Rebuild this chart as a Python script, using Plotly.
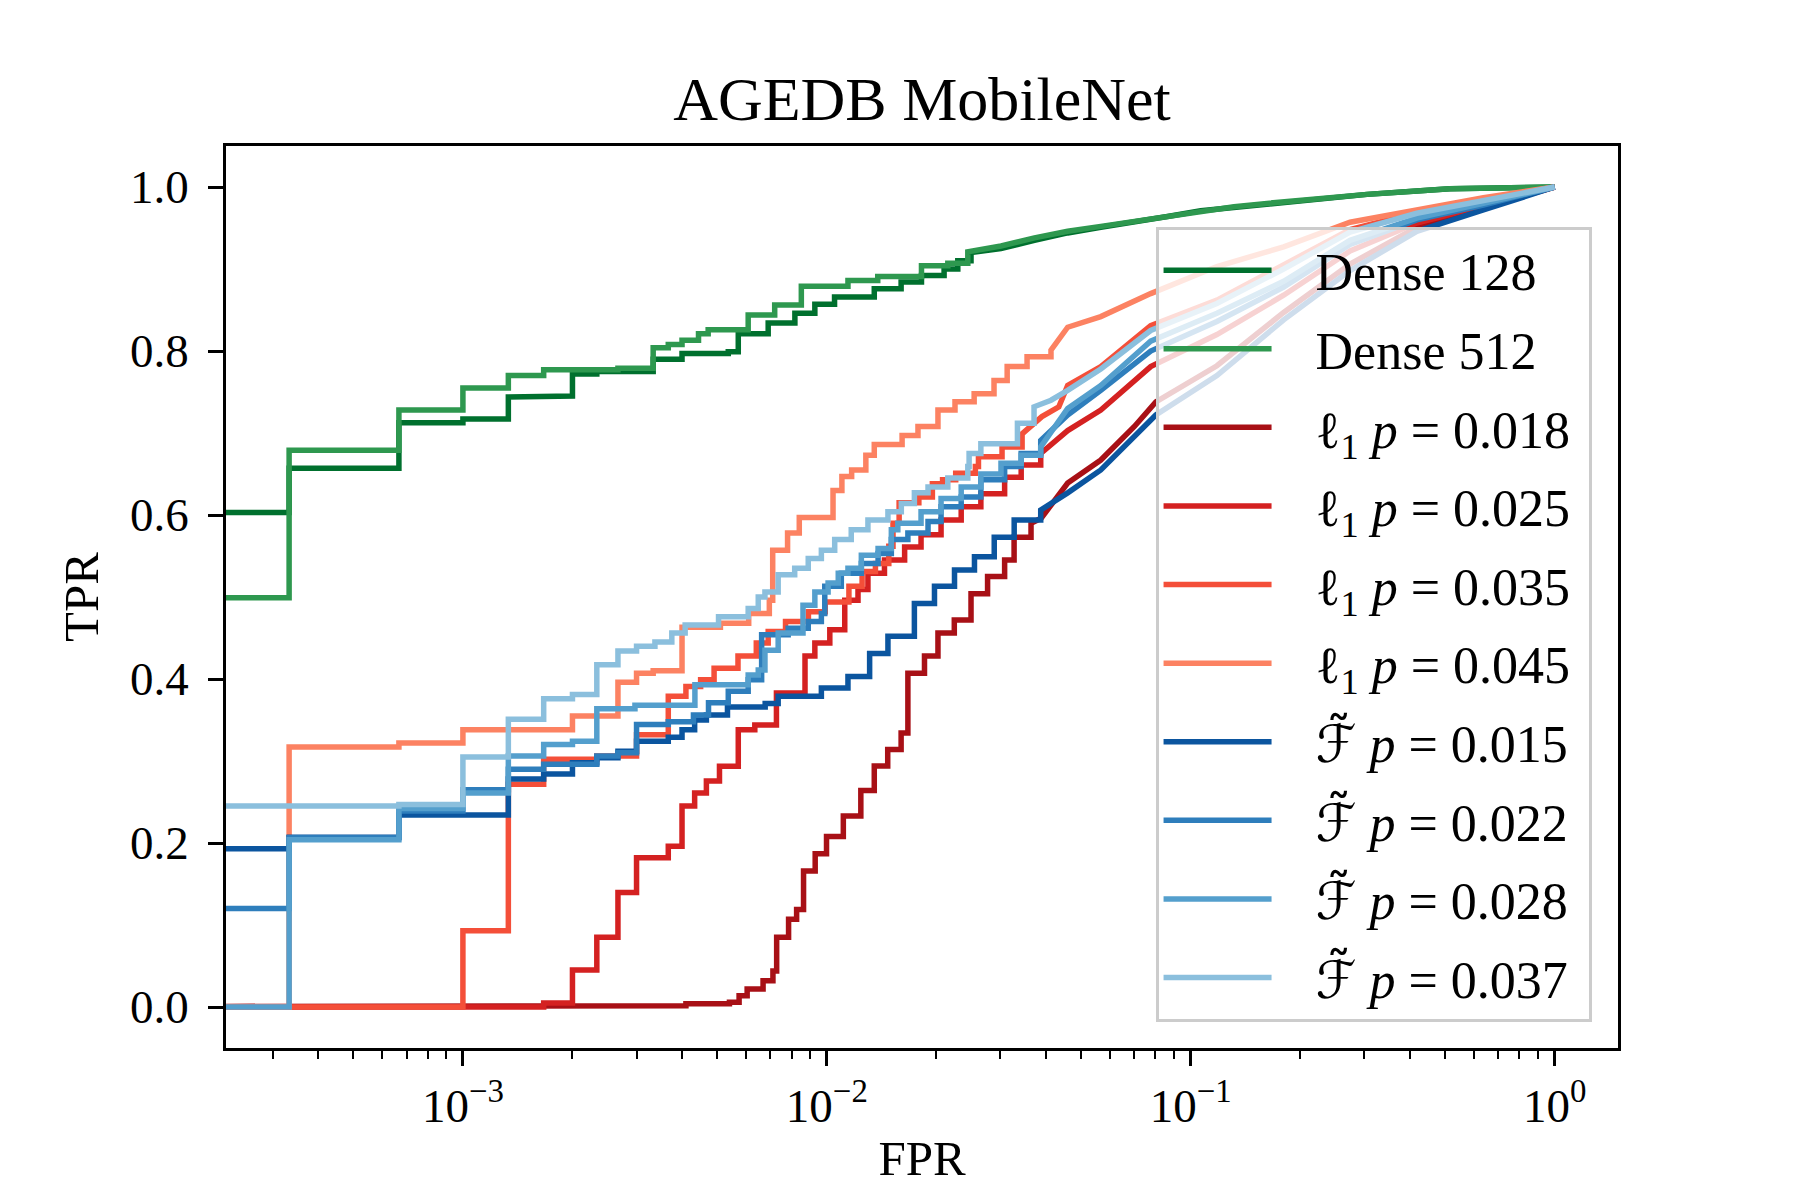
import plotly.graph_objects as go

# ROC curves.
# *_steps: staircase corners (FPR where the TPR level starts, TPR level)
# *_tail: points along the fine-grained upper part, joined directly
dense128_steps = [(0, 0.603), (0.000333, 0.657), (0.000667, 0.7125), (0.001, 0.717), (0.001333, 0.744),
                  (0.001667, 0.745), (0.002, 0.772), (0.002333, 0.775), (0.003333, 0.79), (0.004, 0.797),
                  (0.00536, 0.799), (0.00571, 0.821), (0.0069, 0.834), (0.00817, 0.846), (0.00927, 0.857),
                  (0.0105, 0.866), (0.0135, 0.876), (0.016, 0.884), (0.0182, 0.892), (0.021, 0.90),
                  (0.0229, 0.91), (0.0249, 0.92)]
dense128_tail = [(0.0301, 0.925), (0.0372, 0.935), (0.0459, 0.944), (0.0566, 0.951), (0.070, 0.957),
                 (0.0863, 0.964), (0.1065, 0.971), (0.1315, 0.975), (0.162, 0.980), (0.200, 0.984),
                 (0.247, 0.988), (0.305, 0.991), (0.418, 0.995), (0.515, 0.998), (1.0, 1.0)]

dense512_steps = [(0, 0.499), (0.000333, 0.679), (0.000667, 0.728), (0.001, 0.755), (0.001333, 0.770),
                  (0.001667, 0.777), (0.002667, 0.779), (0.003333, 0.804), (0.003667, 0.808), (0.004, 0.813),
                  (0.00444, 0.821), (0.00472, 0.826), (0.00608, 0.844), (0.00719, 0.856), (0.00851, 0.879),
                  (0.01143, 0.886), (0.0138, 0.891), (0.0182, 0.904), (0.0215, 0.907), (0.0244, 0.921)]
dense512_tail = [(0.0301, 0.928), (0.0372, 0.938), (0.0459, 0.946), (0.0566, 0.952), (0.070, 0.958),
                 (0.0863, 0.965), (0.1065, 0.971), (0.1315, 0.976), (0.162, 0.980), (0.200, 0.984),
                 (0.247, 0.988), (0.305, 0.991), (0.418, 0.995), (0.515, 0.998), (1.0, 1.0)]

l1_018_steps = [(0, 0.0), (0.00167, 0.0008), (0.00267, 0.0016), (0.0041, 0.004), (0.0054, 0.0057),
                (0.00574, 0.0138), (0.00604, 0.022), (0.00668, 0.032), (0.00711, 0.044), (0.00728, 0.085),
                (0.00785, 0.107), (0.00826, 0.119), (0.00863, 0.166), (0.00929, 0.187), (0.00998, 0.208),
                (0.0111, 0.233), (0.0124, 0.264), (0.0135, 0.294), (0.0147, 0.314), (0.0160, 0.334),
                (0.0167, 0.407), (0.01855, 0.428), (0.0202, 0.456), (0.0224, 0.472), (0.0249, 0.504),
                (0.02765, 0.525), (0.0308, 0.545), (0.0327, 0.573), (0.0364, 0.590)]
l1_018_tail = [(0.0388, 0.596), (0.0459, 0.639), (0.0566, 0.667), (0.070, 0.708), (0.0802, 0.738),
               (0.118, 0.782), (0.18, 0.847), (0.274, 0.906), (0.418, 0.951), (0.637, 0.975), (1.0, 1.0)]

l1_025_steps = [(0, 0.0), (0.001667, 0.005), (0.002, 0.045), (0.002333, 0.085), (0.002667, 0.1396),
                (0.003, 0.182), (0.003667, 0.196), (0.004, 0.245), (0.004333, 0.261), (0.004667, 0.2755),
                (0.00507, 0.2937), (0.00571, 0.338), (0.00634, 0.344), (0.00727, 0.383), (0.00871, 0.428),
                (0.00927, 0.444), (0.01019, 0.460), (0.0112, 0.496), (0.01218, 0.509), (0.01297, 0.529),
                (0.0144, 0.545), (0.01636, 0.561), (0.01815, 0.576), (0.0206, 0.594), (0.0234, 0.610),
                (0.0265, 0.626), (0.0308, 0.646), (0.0342, 0.661), (0.0387, 0.675)]
l1_025_tail = [(0.0459, 0.703), (0.0566, 0.728), (0.0776, 0.781), (0.118, 0.82), (0.18, 0.868),
               (0.274, 0.922), (0.418, 0.956), (0.637, 0.977), (1.0, 1.0)]

l1_035_steps = [(0, 0.0), (0.001, 0.093), (0.001333, 0.2715), (0.001667, 0.302), (0.002333, 0.306),
                (0.003, 0.332), (0.003667, 0.379), (0.0041, 0.391), (0.0045, 0.399), (0.0049, 0.413),
                (0.0057, 0.428), (0.0064, 0.444), (0.0069, 0.458), (0.0077, 0.470), (0.0089, 0.482),
                (0.0099, 0.494), (0.0115, 0.513), (0.0125, 0.531), (0.0136, 0.541), (0.0148, 0.562),
                (0.0152, 0.59), (0.0158, 0.615), (0.0179, 0.622), (0.0195, 0.638), (0.0208, 0.643),
                (0.0226, 0.651), (0.0256, 0.659), (0.0261, 0.671), (0.0303, 0.683), (0.0344, 0.699)]
l1_035_tail = [(0.039, 0.72), (0.0434, 0.732), (0.0459, 0.758), (0.0566, 0.781), (0.0776, 0.831),
               (0.118, 0.862), (0.18, 0.905), (0.274, 0.948), (0.418, 0.969), (0.637, 0.985), (1.0, 1.0)]

l1_045_steps = [(0, 0.0), (0.000333, 0.317), (0.000667, 0.322), (0.001, 0.338), (0.002, 0.355),
                (0.002667, 0.396), (0.003, 0.407), (0.003333, 0.41), (0.004, 0.463), (0.0051, 0.468),
                (0.0061, 0.48), (0.00695, 0.496), (0.0071, 0.557), (0.0078, 0.578), (0.0084, 0.597),
                (0.0104, 0.630), (0.011, 0.647), (0.0117, 0.655), (0.0128, 0.673), (0.0135, 0.686),
                (0.0161, 0.697), (0.0178, 0.708), (0.0202, 0.728), (0.0225, 0.738), (0.0254, 0.748),
                (0.0288, 0.764), (0.0313, 0.781), (0.0355, 0.793), (0.0413, 0.801)]
l1_045_tail = [(0.0459, 0.829), (0.0566, 0.842), (0.0776, 0.870), (0.118, 0.903), (0.18, 0.927),
               (0.274, 0.957), (0.418, 0.972), (0.637, 0.987), (1.0, 1.0)]

ft_015_steps = [(0, 0.193), (0.000333, 0.207), (0.000667, 0.234), (0.001333, 0.278), (0.001667, 0.284),
                (0.002, 0.298), (0.002333, 0.304), (0.002667, 0.312), (0.003, 0.324), (0.003667, 0.329),
                (0.004, 0.338), (0.004333, 0.350), (0.004667, 0.356), (0.005333, 0.366), (0.00677, 0.370),
                (0.00735, 0.379), (0.00966, 0.389), (0.01143, 0.403), (0.01311, 0.431), (0.01472, 0.452),
                (0.0174, 0.492), (0.01976, 0.513), (0.02243, 0.533), (0.02545, 0.549), (0.02884, 0.573),
                (0.03272, 0.594), (0.0387, 0.606)]
ft_015_tail = [(0.0413, 0.614), (0.0459, 0.627), (0.0566, 0.655), (0.070, 0.695), (0.0802, 0.722),
               (0.118, 0.770), (0.18, 0.838), (0.274, 0.898), (0.418, 0.946), (0.637, 0.972), (1.0, 1.0)]

ft_022_steps = [(0, 0.12), (0.000333, 0.2065), (0.000667, 0.239), (0.001, 0.265), (0.001333, 0.290),
                (0.001667, 0.296), (0.002333, 0.306), (0.002667, 0.310), (0.003, 0.3445), (0.003667, 0.348),
                (0.0043, 0.356), (0.00473, 0.371), (0.00536, 0.385), (0.00608, 0.399), (0.00662, 0.454),
                (0.00783, 0.462), (0.00889, 0.470), (0.00966, 0.48), (0.00987, 0.513), (0.01096, 0.529),
                (0.01244, 0.541), (0.01383, 0.553), (0.01504, 0.570), (0.0167, 0.578), (0.01897, 0.592),
                (0.0206, 0.610), (0.0234, 0.622), (0.0265, 0.643), (0.0308, 0.659), (0.0342, 0.675),
                (0.0387, 0.691)]
ft_022_tail = [(0.0459, 0.722), (0.0566, 0.752), (0.0776, 0.800), (0.118, 0.836), (0.18, 0.878),
               (0.274, 0.93), (0.418, 0.96), (0.637, 0.978), (1.0, 1.0)]

ft_028_steps = [(0, 0.0), (0.000333, 0.204), (0.000667, 0.242), (0.001, 0.261), (0.001333, 0.306),
                (0.001667, 0.320), (0.002, 0.324), (0.002333, 0.3636), (0.00297, 0.368), (0.00434, 0.393),
                (0.00608, 0.405), (0.00648, 0.411), (0.00676, 0.435), (0.00735, 0.456), (0.0086, 0.490),
                (0.00927, 0.506), (0.01008, 0.517), (0.01075, 0.529), (0.01143, 0.535), (0.01244, 0.551),
                (0.01383, 0.559), (0.01504, 0.582), (0.01567, 0.590), (0.01815, 0.604), (0.0206, 0.620),
                (0.0234, 0.634), (0.0265, 0.650), (0.0301, 0.663), (0.0342, 0.673), (0.0387, 0.683)]
ft_028_tail = [(0.0459, 0.730), (0.0566, 0.758), (0.0776, 0.812), (0.118, 0.846), (0.18, 0.885),
               (0.274, 0.935), (0.418, 0.962), (0.637, 0.98), (1.0, 1.0)]

ft_037_steps = [(0, 0.245), (0.000667, 0.247), (0.001, 0.305), (0.001333, 0.351), (0.001667, 0.376),
                (0.002, 0.381), (0.002333, 0.4175), (0.002667, 0.434), (0.003, 0.440), (0.00337, 0.445),
                (0.00375, 0.456), (0.00408, 0.466), (0.00504, 0.476), (0.00608, 0.486), (0.00648, 0.50),
                (0.00676, 0.506), (0.00735, 0.527), (0.00816, 0.535), (0.00889, 0.547), (0.00966, 0.557),
                (0.01051, 0.570), (0.01167, 0.582), (0.01297, 0.594), (0.01472, 0.604), (0.01602, 0.614),
                (0.0174, 0.627), (0.01897, 0.634), (0.0215, 0.645), (0.0244, 0.659), (0.0246, 0.675),
                (0.0265, 0.687), (0.0334, 0.712), (0.0371, 0.732)]
ft_037_tail = [(0.0413, 0.74), (0.0459, 0.752), (0.0566, 0.778), (0.0776, 0.825), (0.118, 0.858),
               (0.18, 0.90), (0.274, 0.945), (0.418, 0.968), (0.637, 0.984), (1.0, 1.0)]

PAD = "\u00a0\u00a0\u00a0"
L1 = "ℓ<sub>1</sub> <i>p</i> = "
FT = "<span style='font-family:DejaVu Sans'>ℱ̃</span> <i>p</i> = "
curve_names = ["Dense 128", "Dense 512",
               L1 + "0.018", L1 + "0.025", L1 + "0.035", L1 + "0.045",
               FT + "0.015", FT + "0.022", FT + "0.028", FT + "0.037"]
curve_data = [(dense128_steps, dense128_tail), (dense512_steps, dense512_tail),
              (l1_018_steps, l1_018_tail), (l1_025_steps, l1_025_tail),
              (l1_035_steps, l1_035_tail), (l1_045_steps, l1_045_tail),
              (ft_015_steps, ft_015_tail), (ft_022_steps, ft_022_tail),
              (ft_028_steps, ft_028_tail), (ft_037_steps, ft_037_tail)]
colors = ["#00702e", "#2e984f",
          "#a81016", "#d42121", "#f44f39", "#fc8262",
          "#0b559f", "#2e7ebc", "#549fcd", "#8bbfdd"]

X_RANGE = [-3.651, 0.174]
FONT = "Liberation Serif, Times New Roman, serif"


def staircase(steps, tail, zero_x):
    # expand staircase corners (horizontal, then vertical) and add the tail
    xs, ys = [], []
    for i, (f, t) in enumerate(steps):
        f = f if f > 0 else zero_x
        if i > 0:
            xs.append(f)
            ys.append(ys[-1])
        xs.append(f)
        ys.append(t)
    for f, t in tail:
        xs.append(f)
        ys.append(t)
    return xs, ys


fig = go.Figure()
zero_x = 10 ** (X_RANGE[0] - 1)
for name, (steps, tail), color in zip(curve_names, curve_data, colors):
    xs, ys = staircase(steps, tail, zero_x)
    fig.add_trace(go.Scatter(x=xs, y=ys, mode="lines", name=PAD + name + "\u00a0", legendgroup=name,
                             line=dict(color=color, width=5.5)))

minor_vals = [m * 10.0 ** e for e in range(-4, 1) for m in range(2, 10)]

# the page puts the chart ~7px in from the corner, so the margins lean left/up
fig.update_layout(
    width=1800, height=1200,
    paper_bgcolor="white", plot_bgcolor="white",
    margin=dict(l=218, r=190, t=138, b=160),
    font=dict(family=FONT, size=46, color="black"),
    title=dict(text="AGEDB MobileNet", x=0.5, xref="paper", y=1 - 90 / 1200, yref="container",
               xanchor="center", yanchor="middle", font=dict(family=FONT, size=62, color="black")),
    showlegend=True,
    legend=dict(x=0.981, y=0.029, xanchor="right", yanchor="bottom",
                bgcolor="rgba(255,255,255,0.8)", bordercolor="#cccccc", borderwidth=3,
                font=dict(family=FONT, size=52, color="black"),
                itemwidth=108, tracegroupgap=8),
)

fig.update_xaxes(
    type="log", range=X_RANGE,
    tickvals=[0.001, 0.01, 0.1, 1],
    ticktext=["10<sup>−3</sup>", "10<sup>−2</sup>", "10<sup>−1</sup>", "10<sup>0</sup>"],
    ticks="outside", ticklen=15, tickwidth=2.5, tickcolor="black",
    minor=dict(ticks="outside", ticklen=8, tickwidth=2, tickcolor="black", tickvals=minor_vals),
    showline=True, linecolor="black", linewidth=2.5, mirror=True,
    showgrid=False, zeroline=False,
    tickfont=dict(family=FONT, size=47),
    title=dict(text="FPR", standoff=10, font=dict(family=FONT, size=49)),
)
fig.update_yaxes(
    range=[-0.05, 1.05],
    tickvals=[0, 0.2, 0.4, 0.6, 0.8, 1.0], tickformat=".1f",
    ticks="outside", ticklen=15, tickwidth=2.5, tickcolor="black",
    ticklabelstandoff=10,
    showline=True, linecolor="black", linewidth=2.5, mirror=True,
    showgrid=False, zeroline=False,
    tickfont=dict(family=FONT, size=47),
    title=dict(text="TPR", standoff=16, font=dict(family=FONT, size=49)),
)

fig.write_html("out.html")
